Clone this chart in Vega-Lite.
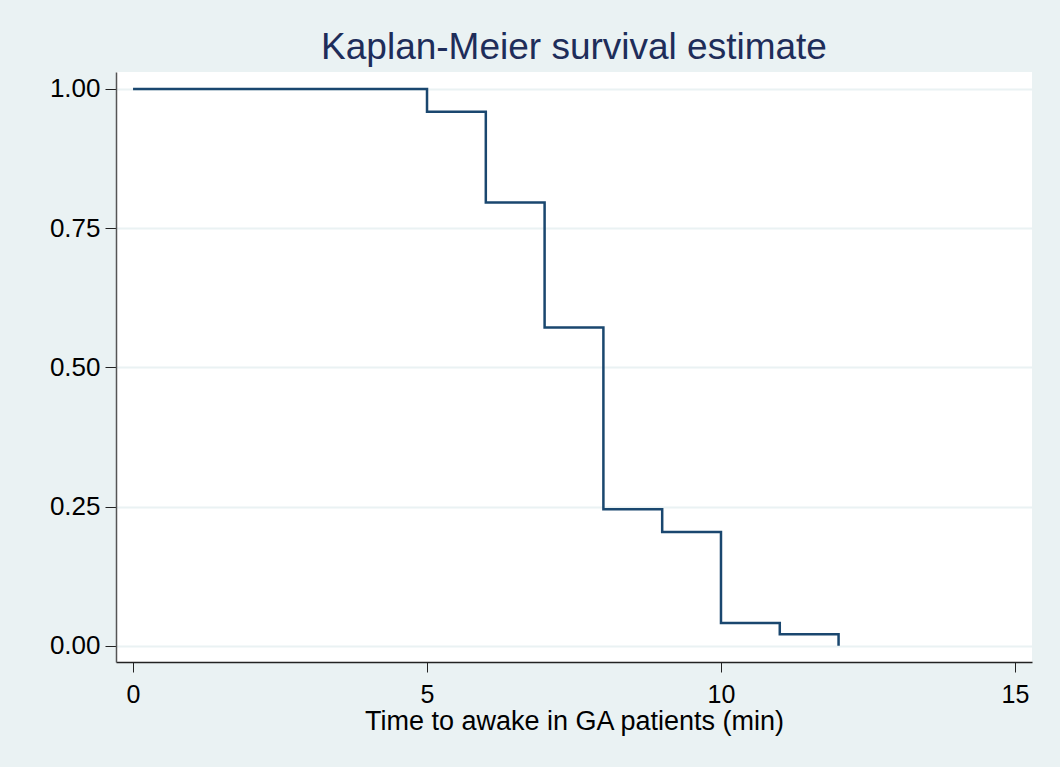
{
  "$schema": "https://vega.github.io/schema/vega-lite/v6.json",
  "width": 916,
  "height": 590,
  "autosize": {"type": "none"},
  "padding": {"left": 116, "top": 72, "right": 28, "bottom": 105},
  "background": "#EAF2F3",
  "title": {
    "text": "Kaplan-Meier survival estimate",
    "font": "Liberation Sans",
    "fontSize": 37,
    "fontWeight": "normal",
    "color": "#1E2D5A",
    "anchor": "middle",
    "offset": 5
  },
  "data": {
    "values": [
      {"time": 0, "survival": 1.0},
      {"time": 5, "survival": 0.9592},
      {"time": 6, "survival": 0.7959},
      {"time": 7, "survival": 0.5714},
      {"time": 8, "survival": 0.2449},
      {"time": 9, "survival": 0.2041},
      {"time": 10, "survival": 0.0408},
      {"time": 11, "survival": 0.0204},
      {"time": 12, "survival": 0.0}
    ]
  },
  "mark": {"type": "line", "interpolate": "step-after", "color": "#1A476F", "strokeWidth": 2.5},
  "encoding": {
    "x": {
      "field": "time",
      "type": "quantitative",
      "scale": {"domain": [-0.29, 15.29], "nice": false, "zero": false},
      "axis": {
        "title": "Time to awake in GA patients (min)",
        "values": [0, 5, 10, 15],
        "format": "d",
        "grid": false,
        "tickSize": 10,
        "tickColor": "#222222",
        "domainColor": "#222222",
        "domainWidth": 1.5,
        "labelFont": "Liberation Sans",
        "labelFontSize": 25,
        "labelColor": "#000000",
        "labelPadding": 10,
        "titleFont": "Liberation Sans",
        "titleFontSize": 27,
        "titleFontWeight": "normal",
        "titleColor": "#000000",
        "titlePadding": 1
      }
    },
    "y": {
      "field": "survival",
      "type": "quantitative",
      "scale": {"domain": [-0.0293, 1.0305], "nice": false, "zero": false},
      "axis": {
        "title": null,
        "values": [0, 0.25, 0.5, 0.75, 1],
        "format": ".2f",
        "grid": true,
        "gridColor": "#EAF2F3",
        "gridWidth": 2,
        "tickSize": 11,
        "tickColor": "#222222",
        "domainColor": "#555555",
        "domainWidth": 1.5,
        "labelFont": "Liberation Sans",
        "labelFontSize": 26,
        "labelColor": "#000000",
        "labelPadding": 5
      }
    }
  },
  "config": {
    "view": {"fill": "#FFFFFF", "stroke": null}
  }
}
